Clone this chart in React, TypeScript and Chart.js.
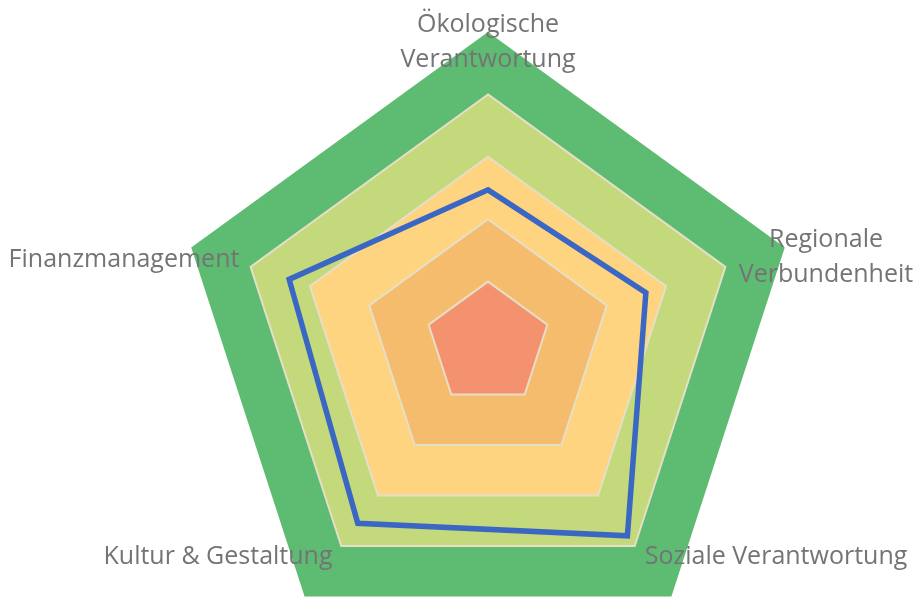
import React, { useEffect, useRef } from 'react';
import { Chart, registerables } from 'chart.js';

Chart.register(...registerables);

// ---- Data ----
const categories: (string | string[])[] = [
  ['Ökologische', 'Verantwortung'],
  ['Regionale', 'Verbundenheit'],
  'Soziale Verantwortung',
  'Kultur & Gestaltung',
  'Finanzmanagement',
];
const band5 = [5, 5, 5, 5, 5];
const band4 = [4, 4, 4, 4, 4];
const band3 = [3, 3, 3, 3, 3];
const band2 = [2, 2, 2, 2, 2];
const band1 = [1, 1, 1, 1, 1];
const scoreValues = [2.47, 2.66, 3.8, 3.55, 3.35];
const scaleMin = 0;
const scaleMax = 4.07; // outer band (5) extends beyond the scale's drawing radius

// ---- Styles ----
const bandColors = ['#5dbb72', '#c3d97b', '#fed480', '#f6bc6e', '#f4916f'];
const bandBorder = '#e6dfc8';
const lineColor = '#3b67c4';
const labelColor = '#747474';
const labelFont = '25px "Open Sans", sans-serif';
const labelLineHeight = 35;
// label anchor offsets relative to scale center (centre x, first baseline y)
const labelOffsets = [
  { dx: 0, dy: -312 },
  { dx: 338, dy: -97 },
  { dx: 288, dy: 220 },
  { dx: -270, dy: 220 },
  { dx: -364, dy: -77 },
];

// let the fills use the whole canvas (outer band reaches beyond the scale radius)
const fullAreaPlugin = {
  id: 'fullArea',
  afterLayout(chart: any) {
    const a = chart.chartArea;
    a.left = 0;
    a.top = 0;
    a.right = chart.width;
    a.bottom = chart.height;
    a.width = chart.width;
    a.height = chart.height;
  },
};

const labelPlugin = {
  id: 'customPointLabels',
  afterDatasetsDraw(chart: any) {
    const scale = chart.scales.r;
    const ctx = chart.ctx;
    ctx.save();
    ctx.font = labelFont;
    ctx.fillStyle = labelColor;
    ctx.textAlign = 'center';
    ctx.textBaseline = 'alphabetic';
    categories.forEach((lab, i) => {
      const lines = Array.isArray(lab) ? lab : [lab];
      const o = labelOffsets[i];
      lines.forEach((ln, j) => {
        ctx.fillText(ln, scale.xCenter + o.dx, scale.yCenter + o.dy + j * labelLineHeight);
      });
    });
    ctx.restore();
  },
};

export default function App() {
  const ref = useRef<HTMLCanvasElement | null>(null);
  useEffect(() => {
    if (!ref.current) return;
    const bands = [band5, band4, band3, band2, band1];
    const bandDatasets = bands.map((d, i) => ({
      label: 'Stufe ' + (5 - i),
      data: d,
      backgroundColor: bandColors[i],
      borderColor: i === 0 ? bandColors[0] : bandBorder,
      borderWidth: i === 0 ? 0 : 2,
      fill: 'origin',
      pointRadius: 0,
      clip: false,
      order: 5 - i,
    }));
    const chart = new Chart(ref.current, {
      type: 'radar',
      data: {
        labels: categories as any,
        datasets: [
          {
            label: 'Bewertung',
            data: scoreValues,
            borderColor: lineColor,
            backgroundColor: 'transparent',
            borderWidth: 5.5,
            borderJoinStyle: 'miter',
            fill: false,
            pointRadius: 0,
            clip: false,
            order: 0,
          },
          ...bandDatasets,
        ] as any,
      },
      options: {
        responsive: false,
        animation: false,
        devicePixelRatio: 1,
        layout: { padding: { top: 90, bottom: 0, left: 62, right: 0 } },
        plugins: { legend: { display: false }, tooltip: { enabled: false } },
        elements: { line: { tension: 0 } },
        scales: {
          r: {
            min: scaleMin,
            max: scaleMax,
            ticks: { display: false },
            grid: { display: false },
            angleLines: { display: false },
            pointLabels: { display: false },
          },
        },
      } as any,
      plugins: [fullAreaPlugin, labelPlugin],
    });
    return () => chart.destroy();
  }, []);
  return (
    <div style={{ position: 'absolute', left: 0, top: 0, width: 914, height: 599, background: '#fff' }}>
      <canvas ref={ref} width={914} height={599} style={{ display: 'block' }} />
    </div>
  );
}
